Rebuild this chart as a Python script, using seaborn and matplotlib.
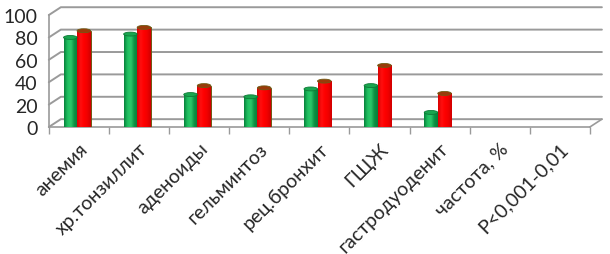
import numpy as np
import pandas as pd
import matplotlib
matplotlib.use("Agg")
import matplotlib.pyplot as plt
import matplotlib.patches as patches
from matplotlib.colors import LinearSegmentedColormap
import seaborn as sns

# ------------------------------------------------------------
# data
# ------------------------------------------------------------
CATEGORIES = [
    "анемия",
    "хр.тонзиллит",
    "аденоиды",
    "гельминтоз",
    "рец.бронхит",
    "ГЩЖ",
    "гастродуоденит",
    "частота, %",
    "P<0,001-0,01",
]
SERIES_A = [80, 83, 29, 27, 34, 37, 13, 0, 0]   # green
SERIES_B = [86, 89, 37, 35, 41, 55, 30, 0, 0]   # red
SERIES_NAMES = ["A", "B"]
Y_TICKS = [0, 20, 40, 60, 80, 100]

C_SERIES = {"A": "#00A650", "B": "#FF0000"}
C_EDGE = {"A": "#0E7A36", "B": "#6E5A14"}
C_CAP = {"A": "#19A64F", "B": "#9A3A0A"}
C_SHADE = {
    "A": ["#06803A", "#1FBF60", "#2CC86A", "#0C8F42", "#06803A"],
    "B": ["#D80000", "#FF1010", "#FF0000", "#F00000", "#D00000"],
}
C_WALL = "#9A9A9A"

# fake depth of the 3d box (category units, value units)
DEPTH_X = 0.2
DEPTH_Y = 7


def shade_bar(ax, bar, colors):
    cmap = LinearSegmentedColormap.from_list("shade", colors)
    x, y = bar.get_x(), bar.get_y()
    w, h = bar.get_width(), bar.get_height()
    if h <= 0:
        return
    grad = np.linspace(0, 1, 64).reshape(1, -1)
    im = ax.imshow(grad, cmap=cmap, aspect="auto", extent=[x, x + w, y, y + h],
                   zorder=3.5, interpolation="bicubic")
    im.set_clip_path(bar)


def main():
    sns.set_theme(style="white")
    plt.rcParams["font.family"] = ["Lato", "Noto Sans", "DejaVu Sans"]

    df = pd.DataFrame({
        "cat": CATEGORIES * 2,
        "val": SERIES_A + SERIES_B,
        "series": [SERIES_NAMES[0]] * len(CATEGORIES) + [SERIES_NAMES[1]] * len(CATEGORIES),
    })

    fig = plt.figure(figsize=(6.1, 2.55), dpi=100)
    ax = fig.add_axes([0.080, 0.498, 0.887, 0.439])

    sns.barplot(
        data=df,
        x="cat",
        y="val",
        hue="series",
        order=CATEGORIES,
        hue_order=SERIES_NAMES,
        palette=C_SERIES,
        width=0.45,
        gap=0.0,
        ax=ax,
        legend=False,
        zorder=3,
    )

    n = len(CATEGORIES)
    x0, x1 = -0.5, n - 0.5
    ax.set_ylim(0, 100)
    ax.set_xlim(x0, x1)

    for cont, name in zip(ax.containers, SERIES_NAMES):
        for bar in cont:
            bar.set_x(bar.get_x() - 0.03)
            bar.set_edgecolor(C_EDGE[name])
            bar.set_linewidth(0.7)
            bar.set_zorder(3)
            shade_bar(ax, bar, C_SHADE[name])
            if bar.get_height() > 0:
                cap = patches.Ellipse(
                    (bar.get_x() + bar.get_width() / 2, bar.get_height()),
                    bar.get_width(), 3.5,
                    facecolor=C_CAP[name], edgecolor=C_EDGE[name], lw=0.6, zorder=4,
                )
                ax.add_patch(cap)

    # back wall grid + left wall diagonals
    for v in Y_TICKS:
        ax.plot([x0, x0 + DEPTH_X, x1 + DEPTH_X], [v, v + DEPTH_Y, v + DEPTH_Y],
                color=C_WALL, lw=1.4, clip_on=False, zorder=1)
    ax.plot([x1, x1 + DEPTH_X], [0, DEPTH_Y], color=C_WALL, lw=1.2, clip_on=False, zorder=1)

    ax.set_yticks(Y_TICKS)
    ax.set_yticklabels([str(t) for t in Y_TICKS], fontsize=14)
    ax.tick_params(axis="y", length=0, pad=8)

    ax.set_xticks(np.arange(n))
    ax.set_xticklabels(
        CATEGORIES,
        rotation=45,
        ha="right",
        va="top",
        rotation_mode="anchor",
        fontsize=14,
    )
    ax.tick_params(axis="x", length=0, pad=9)
    # category tick marks sit on the boundaries
    ax.set_xticks(np.arange(n + 1) - 0.5, minor=True)
    ax.tick_params(axis="x", which="minor", length=5, color=C_WALL, width=1, direction="out", bottom=True)

    ax.grid(False)
    ax.set_xlabel("")
    ax.set_ylabel("")

    for side in ["top", "right"]:
        ax.spines[side].set_visible(False)
    for side in ["left", "bottom"]:
        ax.spines[side].set_color(C_WALL)
        ax.spines[side].set_linewidth(1.2)

    fig.savefig("out.png", dpi=100)
    plt.close(fig)


if __name__ == "__main__":
    main()
